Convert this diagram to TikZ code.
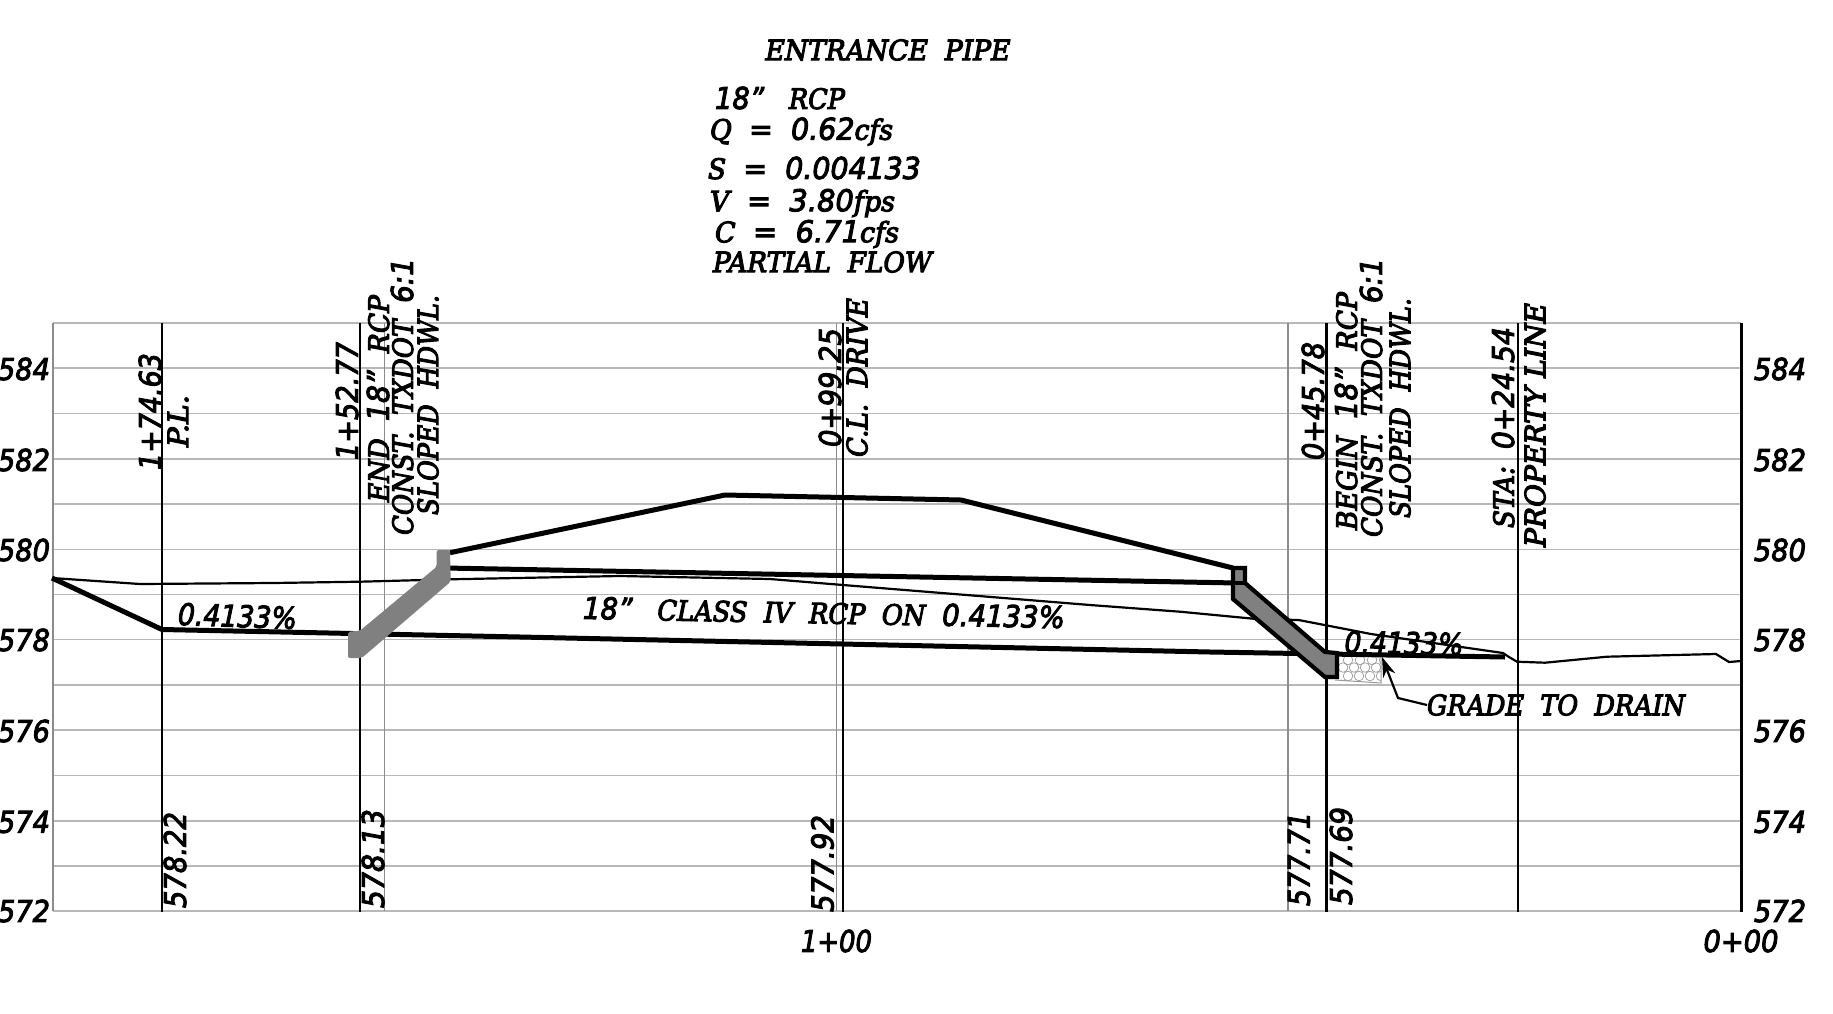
\documentclass[tikz,border=0pt]{standalone}
\usepackage{fontspec}
\usepackage{graphicx}
\usetikzlibrary{arrows.meta}
\newfontfamily\cadserif{DejaVu Serif}
\newfontfamily\cadsans{DejaVu Sans}
\newcommand{\cadT}[1]{{\fontsize{14}{14}\selectfont\cadserif\itshape\special{pdf:code q 2 Tr 0.55 w}#1\special{pdf:code Q}}}
\newcommand{\cadD}[1]{{\cadsans\itshape\special{pdf:code q 2 Tr 0.5 w}#1\special{pdf:code Q}}}
% fit a text to a measured width (in reference pixels), keeping its height
\newcommand{\fw}[2]{\resizebox{#1\dimexpr 0.5pt\relax}{\height}{#2}}
\tikzset{
  lab/.style={inner sep=0pt,outer sep=0pt,font=\fontsize{15}{15}\selectfont},
  vlab/.style={lab,rotate=90},
  gridline/.style={draw=black!28,line width=0.75pt},
  gridv/.style={draw=black!45,line width=0.6pt},
  staline/.style={draw=black,line width=1.4pt},
  thickline/.style={draw=black,line width=2.5pt,line join=miter},
  thinline/.style={draw=black,line width=1.1pt},
}
\begin{document}
\begin{tikzpicture}[x=0.5pt,y=-0.5pt]
\useasboundingbox (0,0) rectangle (1833,1013);
% grid
\foreach \yy in {323,368,413.5,459,504,549.5,594.5,639.5,685,730,775.5,821,866,911}
  \draw[gridline] (53,\yy) -- (1741,\yy);
\foreach \xx in {53,384.5,836.5,1288}
  \draw[gridv] (\xx,323) -- (\xx,911);
\foreach \xx in {162,360,843,1326.5,1518}
  \draw[staline] (\xx,323) -- (\xx,912);
\draw[staline,line width=1.5pt] (1741,323) -- (1741,912);

% existing ground
\draw[thinline] (52,578) -- (140,584) -- (273,583) -- (360,581.7) -- (450,579.3) -- (620,576) -- (770,579) -- (843,585) -- (1090,605) -- (1180,611.7) -- (1256.5,619) -- (1298.6,620) -- (1371,634) -- (1503,653) -- (1509,657) -- (1517,661.7) -- (1545,662.7) -- (1607,656.7) -- (1716,654) -- (1729,662) -- (1741,661);
% road
\draw[thickline] (450,552.7) -- (725,495) -- (961,500) -- (1233,568);
% pipe crown
\draw[thickline] (445,568) -- (1237,583);
% flow line
\draw[thickline] (52,578) -- (162,629.5) -- (520,637) -- (1210,652) -- (1505,657);

% left headwall
\fill[black!50,rounded corners=1pt] (348,631.7) -- (360,630.7) -- (436.7,566.7) -- (436.7,550) -- (450,550) -- (450.7,581.7) -- (361.7,658) -- (348,658) -- cycle;

% riprap
\begin{scope}
\clip (1338,657) -- (1381,657) -- (1381,683) -- (1335,680) -- cycle;
\foreach \xx/\yy in {1348/660,1360/660,1372/660,1384/660,1343/667.5,1354/667.5,1365/667.5,1376/667.5,1348/676,1359/676,1370/676,1381/676}
  \draw[black!40,line width=0.35pt] (\xx,\yy) circle [radius=2.4pt];
\end{scope}
\draw[black!40,line width=0.5pt] (1381,657) -- (1381,683) -- (1335,680);

% right headwall
\draw[draw=black,fill=black!50,line width=2.1pt,line join=miter] (1233,568) -- (1245,568) -- (1245,583) -- (1325,652) -- (1337,653) -- (1337,677) -- (1325,677) -- (1233,599) -- cycle;
\draw[draw=black,line width=2.1pt] (1233,583) -- (1245,583);

% top block
\node[lab] (title) at (888,50) {\fw{245}{\cadT{ENTRANCE\ \ PIPE}}};
\node[lab,anchor=west] (rcp) at (715,98) {\fw{130}{\cadD{18”}\ \ \ \cadT{RCP}}};
\node[lab,anchor=west] (q) at (710,131.5) {\fw{183}{\cadT{Q}\ \ \cadD{=\ \ 0.62}\cadT{cfs}}};
\node[lab,anchor=west] (s) at (708,168) {\fw{213}{\cadT{S}\ \ \cadD{=\ \ 0.004133}}};
\node[lab,anchor=west] (v) at (710,203) {\fw{185}{\cadT{V}\ \ \cadD{=\ \ 3.80}\cadT{fps}}};
\node[lab,anchor=west] (c) at (715,234) {\fw{184}{\cadT{C}\ \ \cadD{=\ \ 6.71}\cadT{cfs}}};
\node[lab,anchor=west] (pf) at (713,262) {\fw{219}{\cadT{PARTIAL\ \ FLOW}}};

% vertical labels
\node[vlab] (s1) at (150,411.5) {\fw{117}{\cadD{1+74.63}}};
\node[vlab] (s1b) at (178,421) {\fw{52}{\cadT{P.L.}}};
\node[vlab] (s2) at (347,401) {\fw{118}{\cadD{1+52.77}}};
\node[vlab] (s2b) at (378,398.5) {\fw{207}{\cadT{END}\ \ \cadD{18”}\ \ \cadT{RCP}}};
\node[vlab] (s2c) at (402,396.5) {\fw{277}{\cadT{CONST.\ \ TXDOT}\ \ \cadD{6:1}}};
\node[vlab] (s2d) at (428,405) {\fw{220}{\cadT{SLOPED\ \ HDWL.}}};
\node[vlab] (s3) at (830,387.5) {\fw{119}{\cadD{0+99.25}}};
\node[vlab] (s3b) at (857,377.5) {\fw{159}{\cadT{C.L.\ \ DRIVE}}};
\node[vlab] (s4) at (1313,401) {\fw{118}{\cadD{0+45.78}}};
\node[vlab] (s4b) at (1346,411) {\fw{238}{\cadT{BEGIN}\ \ \cadD{18”}\ \ \cadT{RCP}}};
\node[vlab] (s4c) at (1371,397.5) {\fw{279}{\cadT{CONST.\ \ TXDOT}\ \ \cadD{6:1}}};
\node[vlab] (s4d) at (1400,408) {\fw{220}{\cadT{SLOPED\ \ HDWL.}}};
\node[vlab] (s5) at (1503,427.5) {\fw{201}{\cadT{STA:}\ \ \cadD{0+24.54}}};
\node[vlab] (s5b) at (1535,425) {\fw{244}{\cadT{PROPERTY\ LINE}}};

% invert labels
\node[vlab] (e1) at (175,860) {\fw{96}{\cadD{578.22}}};
\node[vlab] (e2) at (373,858.5) {\fw{99}{\cadD{578.13}}};
\node[vlab] (e3) at (822.5,863.5) {\fw{97}{\cadD{577.92}}};
\node[vlab] (e4) at (1299,859) {\fw{94}{\cadD{577.71}}};
\node[vlab] (e5) at (1341,856) {\fw{98}{\cadD{577.69}}};

% pipe labels
\node[lab,rotate=-2] (p1) at (237.5,616) {\fw{119}{\cadD{0.4133\%}}};
\node[lab,rotate=-1.1] (p2) at (824,612.5) {\fw{482}{\cadD{18”}\ \ \ \cadT{CLASS\ \ IV\ \ RCP\ \ ON}\ \ \cadD{0.4133\%}}};
\node[lab,rotate=-1] (p3) at (1404,643) {\fw{119}{\cadD{0.4133\%}}};
\node[lab] (grade) at (1556,705) {\fw{258}{\cadT{GRADE\ \ TO\ \ DRAIN}}};
\coordinate (bend) at (1398,698);
\coordinate (tip) at (1382,657);
\draw[line width=1.1pt,-{Stealth[length=10pt,width=6.5pt]}] (grade.west) -- (bend) -- (tip);

% axis numbers
\foreach \n/\yy/\t in {a/369/584,b/460/582,c/550/580,d/640/578,e/731/576,f/822/574,g/911/572}{
  \node[lab] (l\n) at (24,\yy) {\fw{52}{\cadD{\t}}};
  \node[lab] (r\n) at (1780,\yy) {\fw{52}{\cadD{\t}}};
}
\node[lab] (x1) at (836.5,941) {\fw{71}{\cadD{1+00}}};
\node[lab] (x0) at (1741,941) {\fw{75}{\cadD{0+00}}};
\end{tikzpicture}
\end{document}
